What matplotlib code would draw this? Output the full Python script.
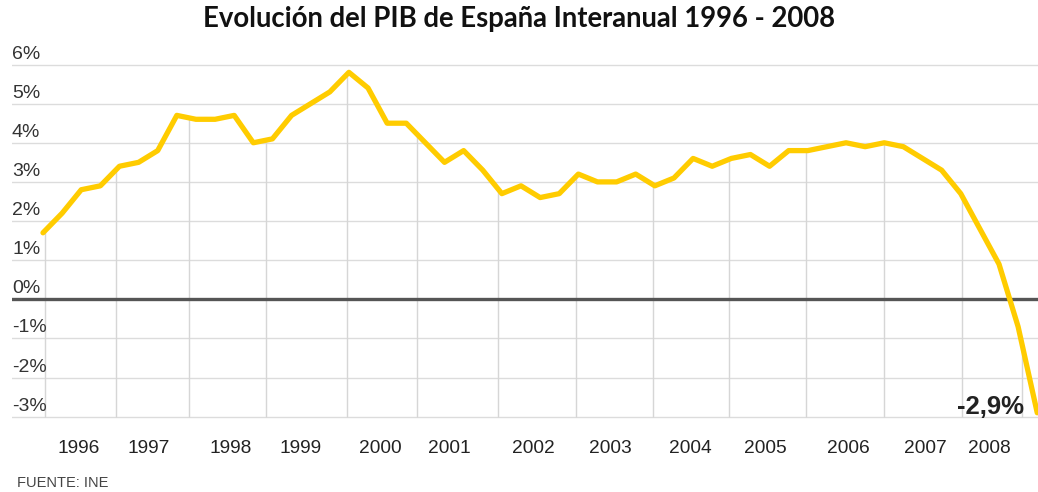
import numpy as np
import matplotlib
matplotlib.use("Agg")
import matplotlib.pyplot as plt
from matplotlib.transforms import blended_transform_factory

# ---- data (quarterly year-on-year GDP growth, %) ----
quarters = ["1996T1", "1996T2", "1996T3", "1996T4",
            "1997T1", "1997T2", "1997T3", "1997T4",
            "1998T1", "1998T2", "1998T3", "1998T4",
            "1999T1", "1999T2", "1999T3", "1999T4",
            "2000T1", "2000T2", "2000T3", "2000T4",
            "2001T1", "2001T2", "2001T3", "2001T4",
            "2002T1", "2002T2", "2002T3", "2002T4",
            "2003T1", "2003T2", "2003T3", "2003T4",
            "2004T1", "2004T2", "2004T3", "2004T4",
            "2005T1", "2005T2", "2005T3", "2005T4",
            "2006T1", "2006T2", "2006T3", "2006T4",
            "2007T1", "2007T2", "2007T3", "2007T4",
            "2008T1", "2008T2", "2008T3", "2008T4",
            "2009T1"]
pib = [1.7, 2.2, 2.8, 2.9,
       3.4, 3.5, 3.8, 4.7,
       4.6, 4.6, 4.7, 4.0,
       4.1, 4.7, 5.0, 5.3,
       5.8, 5.4, 4.5, 4.5,
       4.0, 3.5, 3.8, 3.3,
       2.7, 2.9, 2.6, 2.7,
       3.2, 3.0, 3.0, 3.2,
       2.9, 3.1, 3.6, 3.4,
       3.6, 3.7, 3.4, 3.8,
       3.8, 3.9, 4.0, 3.9,
       4.0, 3.9, 3.6, 3.3,
       2.7, 1.8, 0.9, -0.7,
       -2.9]
year_labels = ["1996", "1997", "1998", "1999", "2000", "2001", "2002",
               "2003", "2004", "2005", "2006", "2007", "2008"]
y_ticks = [6, 5, 4, 3, 2, 1, 0, -1, -2, -3]
last_label = "-2,9%"
title = "Evolución del PIB de España Interanual 1996 - 2008"
source = "FUENTE: INE"

# ---- layout (quarter-index positions of labels / drop lines) ----
year_label_pos = [1.88, 5.54, 9.83, 13.49, 17.63, 21.23, 25.63,
                  29.65, 33.84, 37.76, 42.1, 46.13, 49.48]
drop_pos = [0.1, 3.8, 7.65, 11.65, 15.88, 19.56, 23.8, 27.86,
            31.92, 35.88, 39.9, 43.99, 48.05, 51.2]

W, H = 1038, 492
fig = plt.figure(figsize=(W / 100, H / 100), dpi=100)
fig.patch.set_facecolor("white")

ax_left, ax_right = 12, 1038
ax_top, ax_bot = 60.6, 420.6
ax = fig.add_axes([ax_left / W, 1 - ax_bot / H,
                   (ax_right - ax_left) / W, (ax_bot - ax_top) / H])
ax.set_facecolor("white")

x = np.arange(len(pib))
ax.set_xlim(-1.621, 52.04)
ax.set_ylim(-3.1, 6.1)

# horizontal gridlines
for v in y_ticks:
    if v == 0:
        continue
    ax.axhline(v, color="#dcdcdc", lw=1.0, zorder=1)

# vertical drop lines from the curve to the bottom
tops = np.interp(drop_pos, x, pib)
ax.vlines(drop_pos, -3, tops, color="#d6d6d6", lw=1.0, zorder=1)

# zero line
ax.axhline(0, color="#555555", lw=2.4, zorder=2)

# main line
ax.plot(x, pib, color="#FFCC00", lw=3.8, solid_joinstyle="round",
        solid_capstyle="round", zorder=3)

for s in ax.spines.values():
    s.set_visible(False)
ax.set_yticks([])
ax.set_xticks(year_label_pos)
ax.set_xticklabels(year_labels, fontsize=13.8, color="#222222",
                   family="Liberation Sans")
ax.tick_params(axis="x", length=0, pad=14)

# y labels sitting above their gridlines, left-aligned
ytr = blended_transform_factory(ax.transAxes, ax.transData)
for v in y_ticks:
    ax.text(0.0, v + 0.05, f"{v}%", transform=ytr, ha="left", va="bottom",
            fontsize=14, color="#333333", family="Liberation Sans")

# last value label
ax.text(51.3, pib[-1] - 0.03, last_label, ha="right", va="baseline",
        fontsize=18.5, fontweight="bold", color="#222222",
        family="Liberation Sans")

fig.text(519 / W, 1 - 19 / H, title, ha="center", va="center",
         fontsize=19.8, fontweight="bold", color="#111111", family="Lato")
fig.text(17 / W, 1 - 483 / H, source, ha="left", va="center",
         fontsize=10.5, color="#444444", family="Liberation Sans")

fig.savefig("out.png", dpi=100, facecolor="white")
